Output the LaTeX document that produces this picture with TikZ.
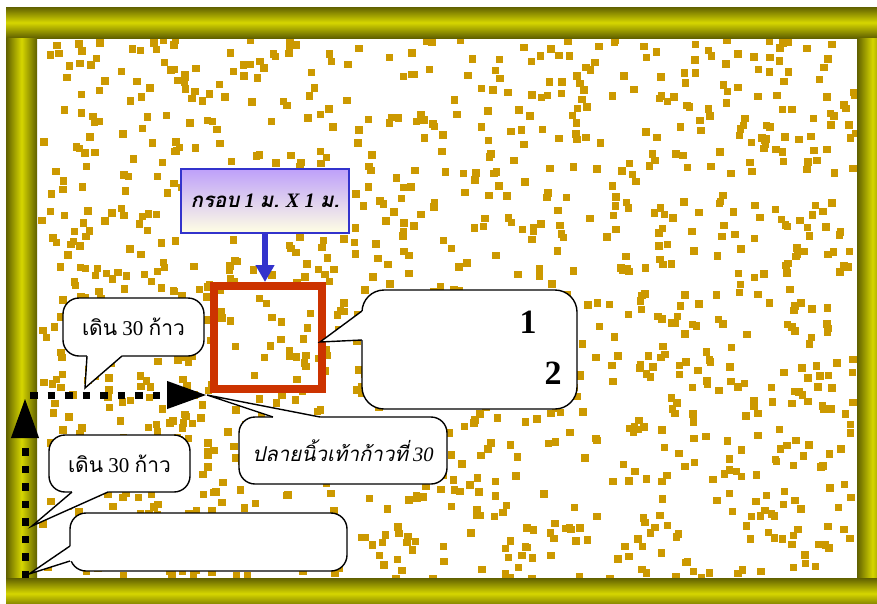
\documentclass[tikz,border=0pt]{standalone}
\usepackage{fontspec}
\setmainfont{Liberation Serif}
\newfontfamily\thai[Script=Thai]{Loma}
\usetikzlibrary{arrows.meta,calc}
\definecolor{dotc}{RGB}{204,153,0}
\definecolor{barhi}{RGB}{214,214,0}
\definecolor{barlo}{RGB}{96,96,0}
\definecolor{redsq}{RGB}{204,51,0}
\definecolor{bluear}{RGB}{51,51,204}
\definecolor{lav}{RGB}{190,160,250}
\definecolor{cream}{RGB}{255,255,228}
\begin{document}
\begin{tikzpicture}[x=1pt,y=-1pt,
  bubble/.style={draw=black,line width=1.4pt,fill=white,rounded corners=16pt,inner sep=0pt},
  ptr/.style={draw=black,line width=1.4pt,line join=miter},
  walk/.style={line width=7pt,dash pattern=on 7.5pt off 10pt,-{Triangle[length=40pt,width=26pt]}},
  dot/.style={fill=dotc},
  txt/.style={font=\fontsize{21}{24}\selectfont}
]
\useasboundingbox (0,0) rectangle (877,603);
\clip (0,0) rectangle (877,603);
\fill[white] (0,0) rectangle (877,603);
% scattered squares
\begin{scope}
\clip (37,38) rectangle (857,578);
\pgfmathsetseed{4242}
\foreach \i in {1,...,1250}{
  \pgfmathsetmacro\rx{38+815*rnd}
  \pgfmathsetmacro\ry{36+540*rnd}
  \fill[dot] (\rx,\ry) rectangle ++(7.5,7.5);
}
\end{scope}
% frame
\shade[top color=barlo,bottom color=barlo,middle color=barhi] (6,7) rectangle (877,38);
\shade[left color=barlo,right color=barlo,middle color=barhi] (6,38) rectangle (37,578);
\shade[left color=barlo,right color=barlo,middle color=barhi] (857,38) rectangle (888,578);
\shade[top color=barlo,bottom color=barlo,middle color=barhi] (6,578) rectangle (877,609);

% label box and red square
\node[draw=bluear,line width=1.3pt,top color=lav,bottom color=cream,minimum width=168,minimum height=64,inner sep=0pt,
  font=\bfseries\itshape\fontsize{20.5}{24}\selectfont] (lbl) at (265,201)
  {{\thai กรอบ} 1 {\thai ม.} X 1 {\thai ม.}};
\node[draw=redsq,line width=8pt,minimum width=108,minimum height=103,inner sep=0pt] (sq) at (268,337.5) {};
\draw[bluear,line width=6pt,-{Triangle[length=17pt,width=18pt]}] (lbl.south) -- (lbl.south |- sq.north);

% walking arrows
\coordinate (vs) at (25,578);
\coordinate (vt) at (25,398);
\coordinate (hs) at (30,395);
\coordinate (ht) at (207,395);
\draw[walk] (vs) -- (vt);
\draw[walk] (hs) -- (ht);

% bubble: upper walk
\node[bubble,minimum width=141,minimum height=58,txt] (w1) at (133.5,327) {{\thai เดิน} 30 {\thai ก้าว}};
\coordinate (w1a) at (87,356); \coordinate (w1b) at (122,356); \coordinate (w1t) at (85,388);
\fill[white] (w1a) -- (w1t) -- (w1b) -- ++(0,-4) -- ($(w1a)+(0,-4)$) -- cycle;
\draw[ptr] (w1a) -- (w1t) -- (w1b);

% bubble: lower walk
\node[bubble,minimum width=141,minimum height=57,txt] (w2) at (119.5,463.5) {{\thai เดิน} 30 {\thai ก้าว}};
\coordinate (w2a) at (72,492); \coordinate (w2b) at (108,492); \coordinate (w2t) at (32,526);
\fill[white] (w2a) -- (w2t) -- (w2b) -- ++(0,-4) -- ($(w2a)+(0,-4)$) -- cycle;
\draw[ptr] (w2a) -- (w2t) -- (w2b);

% bubble: empty
\node[bubble,minimum width=277,minimum height=58] (em) at (208.5,542) {};
\coordinate (ema) at (70,546); \coordinate (emb) at (70,561); \coordinate (emt) at (29,574);
\fill[white] (ema) -- (emt) -- (emb) -- ++(4,0) -- ($(ema)+(4,0)$) -- cycle;
\draw[ptr] (ema) -- (emt) -- (emb);

% bubble: toe
\node[bubble,minimum width=208,minimum height=67,font=\itshape\fontsize{20.5}{24}\selectfont] (toe) at (343,450.5)
  {{\thai ปลายนิ้วเท้าก้าวที่} 30};
\coordinate (toa) at (273,417); \coordinate (tob) at (320,417);
\fill[white] (toa) -- (ht) -- (tob) -- ++(0,4) -- ($(toa)+(0,4)$) -- cycle;
\draw[ptr] (toa) -- (ht) -- (tob);

% bubble: 1 2
\node[bubble,rounded corners=22pt,minimum width=215,minimum height=119] (nb) at (469.5,349.5) {};
\coordinate (nba) at (362,311); \coordinate (nbb) at (362,340); \coordinate (nbt) at (320,342);
\fill[white] (nba) -- (nbt) -- (nbb) -- ++(4,0) -- ($(nba)+(4,0)$) -- cycle;
\draw[ptr] (nba) -- (nbt) -- (nbb);
\node[font=\bfseries\fontsize{34}{36}\selectfont,inner sep=0pt] (n1) at (528,322) {1};
\node[font=\bfseries\fontsize{34}{36}\selectfont,inner sep=0pt] (n2) at (553,373) {2};
\end{tikzpicture}
\end{document}
